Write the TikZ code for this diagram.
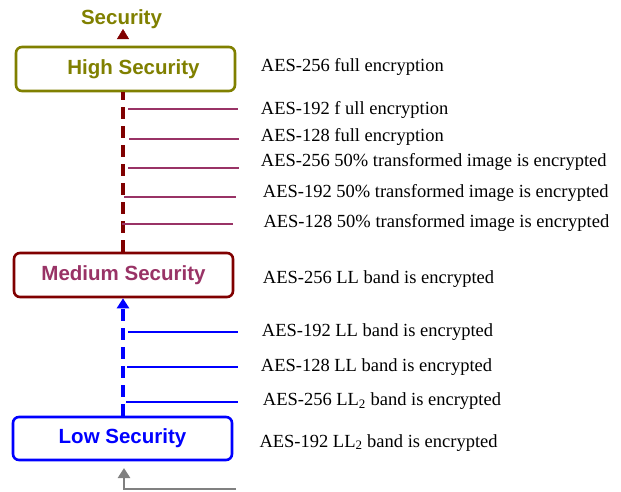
\documentclass[tikz,border=0pt]{standalone}
\usepackage{fontspec}
\setmainfont{Liberation Serif}
\setsansfont{Liberation Sans}
\usetikzlibrary{arrows.meta}

\definecolor{olivec}{HTML}{808000}
\definecolor{darkredc}{HTML}{800000}
\definecolor{plumc}{HTML}{993366}
\definecolor{bluec}{HTML}{0000FF}
\definecolor{grayc}{HTML}{808080}

\begin{document}
\begin{tikzpicture}[x=1pt, y=-1pt]
% Define styles
\tikzset{
    level/.style={rectangle, rounded corners=6pt, line width=2.6pt, fill=white,
        minimum width=219pt, minimum height=44pt, inner sep=0pt,
        font=\fontsize{20.5}{24}\selectfont\sffamily\bfseries},
    desc/.style={anchor=base west, inner sep=0pt, font=\fontsize{18.5}{22}\selectfont},
    spine/.style={line width=3.2pt, dash pattern=on 12pt off 7pt},
    branch/.style={line width=2.7pt},
    tip/.style={-{Triangle[width=12pt,length=10pt]}}
}

\useasboundingbox (0,0) rectangle (621,491);

% Title
\node[olivec, font=\fontsize{20.5}{24}\selectfont\sffamily\bfseries, anchor=base] (title) at (121.5,24) {Security};

% Security levels
\node[level, draw=olivec, text=olivec] (high) at (125.5,69) {\hspace*{16pt}High Security};
\node[level, draw=darkredc, text=plumc] (medium) at (123.5,275) {Medium Security};
\node[level, draw=bluec, text=bluec, minimum height=43pt] (low) at (122.5,438.5) {Low Security};

% Spine coordinates
\coordinate (sp) at (123,0);
\coordinate (top) at (123,29);
\coordinate (bottom) at (124,468);
\coordinate (feed) at (236,489);

% Vertical connectors
\draw[spine, darkredc] (sp |- medium.north) -- (sp |- high.south);
\draw[tip, darkredc, shorten <=9pt] (sp |- high.north) -- (top);
\draw[spine, bluec, tip] (sp |- low.north) -- (sp |- medium.south);
\draw[branch, grayc, tip] (feed) -- (bottom |- feed) -- (bottom);

% Branch lines
\foreach \y/\xa/\xb [count=\i] in {109/128/238, 139/129/239, 168/128/239, 197/124/236, 224/122/233} {
    \coordinate (pa\i) at (\xa,\y);
    \coordinate (pb\i) at (\xb,\y);
    \draw[branch, plumc] (pa\i) -- (pb\i);
}
\foreach \y/\xa [count=\i] in {332/128, 367/127, 402/126} {
    \coordinate (ba\i) at (\xa,\y);
    \coordinate (bb\i) at (238,\y);
    \draw[branch, bluec] (ba\i) -- (bb\i);
}

% Descriptions
\node[desc] (d1) at (260.7,71.7) {AES-256 full encryption};
\node[desc] (d2) at (260.7,114.3) {AES-192 f ull encryption};
\node[desc] (d3) at (260.7,141) {AES-128 full encryption};
\node[desc] (d4) at (260.7,166.7) {AES-256 50\% transformed image is encrypted};
\node[desc] (d5) at (262.7,197.7) {AES-192 50\% transformed image is encrypted};
\node[desc] (d6) at (263.3,227.7) {AES-128 50\% transformed image is encrypted};
\node[desc] (d7) at (262.7,283.3) {AES-256 LL band is encrypted};
\node[desc] (d8) at (261.7,336) {AES-192 LL band is encrypted};
\node[desc] (d9) at (260.7,371.7) {AES-128 LL band is encrypted};
\node[desc] (d10) at (262.7,405.7) {AES-256 LL\textsubscript{2} band is encrypted};
\node[desc] (d11) at (259.3,447) {AES-192 LL\textsubscript{2} band is encrypted};

\end{tikzpicture}
\end{document}
